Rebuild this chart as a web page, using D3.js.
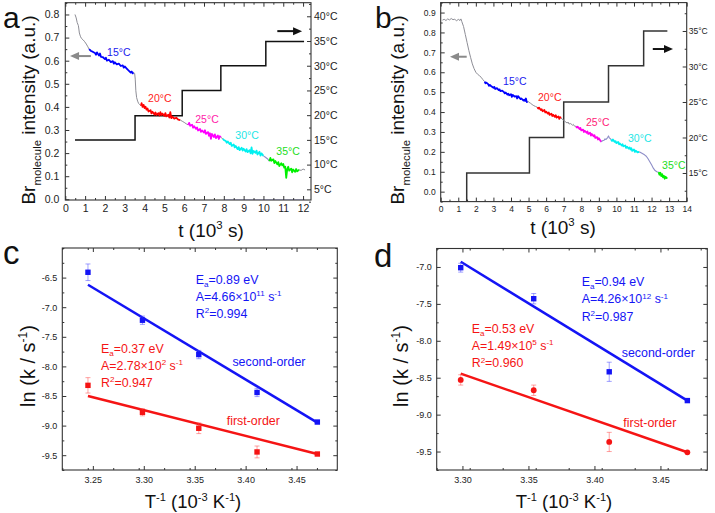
<!DOCTYPE html>
<html><head><meta charset="utf-8">
<script src="https://cdn.jsdelivr.net/npm/d3@7"></script>
<style>
body{margin:0;background:#fff;}
svg text{font-family:"Liberation Sans",Arial,Helvetica,sans-serif;}
</style></head><body>
<svg id="fig" width="715" height="513"></svg>
<script>
// ---------------- Panel a data ----------------
const aXTicks=[0,1,2,3,4,5,6,7,8,9,10,11,12];
const aYTicks=[0,0.1,0.2,0.3,0.4,0.5,0.6,0.7,0.8];
const aTempTicks=[5,10,15,20,25,30,35,40];
const aGray0=[[0.49,0.80],[0.55,0.785],[0.6,0.765],[0.66,0.752],[0.71,0.72],[0.76,0.706],[0.81,0.697],[0.9,0.69],[0.98,0.682],[1.06,0.672],[1.14,0.66],[1.2,0.65]];
const aBlue=[[1.2,0.650],[1.3,0.642],[1.4,0.638],[1.5,0.633],[1.55,0.626],[1.6,0.636],[1.7,0.622],[1.75,0.631],[1.8,0.617],[1.9,0.615],[2.0,0.607],[2.05,0.613],[2.1,0.600],[2.2,0.604],[2.3,0.594],[2.4,0.598],[2.45,0.587],[2.5,0.593],[2.6,0.584],[2.7,0.587],[2.8,0.577],[2.9,0.580],[2.95,0.570],[3.0,0.575],[3.1,0.566],[3.15,0.561],[3.2,0.557],[3.25,0.553],[3.3,0.549],[3.35,0.553],[3.4,0.545],[3.44,0.550]];
const aGray1=[[3.44,0.550],[3.5,0.545],[3.53,0.52],[3.56,0.47],[3.6,0.44],[3.65,0.425],[3.7,0.415],[3.75,0.41],[3.82,0.405]];
const aRed=[[3.82,0.405],[3.85,0.416],[3.9,0.400],[3.95,0.409],[4.0,0.395],[4.05,0.401],[4.1,0.388],[4.15,0.393],[4.2,0.380],[4.3,0.386],[4.35,0.372],[4.4,0.379],[4.5,0.367],[4.55,0.376],[4.6,0.365],[4.7,0.373],[4.75,0.363],[4.8,0.377],[4.85,0.365],[4.9,0.371],[5.0,0.361],[5.05,0.373],[5.1,0.359],[5.2,0.366],[5.25,0.354],[5.3,0.377],[5.35,0.351],[5.4,0.358],[5.5,0.349],[5.6,0.353],[5.7,0.345],[5.8,0.343]];
const aGray2=[[5.8,0.343],[5.9,0.338],[6.0,0.333],[6.1,0.327],[6.2,0.322]];
const aMag=[[6.2,0.322],[6.25,0.331],[6.3,0.318],[6.4,0.323],[6.45,0.310],[6.5,0.316],[6.6,0.305],[6.65,0.311],[6.7,0.298],[6.8,0.304],[6.85,0.292],[6.9,0.298],[7.0,0.289],[7.05,0.299],[7.1,0.283],[7.2,0.291],[7.25,0.275],[7.3,0.286],[7.35,0.262],[7.4,0.283],[7.5,0.270],[7.55,0.281],[7.6,0.265],[7.7,0.276],[7.75,0.261],[7.8,0.273],[7.85,0.268]];
const aGray3=[[7.85,0.268],[7.95,0.262]];
const aCyan=[[7.95,0.262],[8.0,0.257],[8.1,0.252],[8.15,0.245],[8.2,0.250],[8.3,0.239],[8.35,0.245],[8.4,0.231],[8.5,0.237],[8.55,0.225],[8.6,0.231],[8.7,0.217],[8.75,0.226],[8.8,0.213],[8.9,0.223],[8.95,0.211],[9.0,0.219],[9.1,0.207],[9.15,0.217],[9.2,0.204],[9.3,0.213],[9.35,0.199],[9.4,0.225],[9.45,0.197],[9.5,0.209],[9.6,0.201],[9.65,0.211],[9.7,0.194],[9.8,0.206],[9.85,0.189],[9.9,0.199],[10.0,0.188]];
const aGray4=[[10.0,0.188],[10.1,0.182],[10.2,0.176],[10.3,0.165]];
const aGreen=[[10.3,0.165],[10.35,0.179],[10.4,0.167],[10.5,0.173],[10.55,0.157],[10.6,0.166],[10.7,0.151],[10.75,0.161],[10.8,0.144],[10.9,0.156],[10.95,0.147],[11.0,0.153],[11.05,0.137],[11.1,0.141],[11.15,0.093],[11.2,0.131],[11.25,0.141],[11.3,0.124],[11.4,0.133],[11.45,0.117],[11.5,0.129],[11.6,0.119],[11.65,0.131],[11.7,0.121],[11.8,0.128]];
const aGray5=[[11.8,0.128],[11.9,0.125],[12.0,0.131],[12.1,0.127]];
const aTempT=[0.49,3.52,3.52,5.9,5.9,7.85,7.85,10.12,10.12,12.05];
const aTempC=[15.0,15.0,19.9,19.9,25.0,25.0,30.0,30.0,34.9,34.9];
const aTempLabels=["15°C","20°C","25°C","30°C","35°C"];
const aLabelPos=[[2.11,0.621],[4.18,0.4225],[6.56,0.332],[8.58,0.262],[10.65,0.193]];

// ---------------- Panel b data ----------------
const bXTicks=[0,1,2,3,4,5,6,7,8,9,10,11,12,13,14];
const bYTicks=[0,0.1,0.2,0.3,0.4,0.5,0.6,0.7,0.8,0.9];
const bTempTicks=[15,20,25,30,35];
const bGray0=[[0.1,0.862],[0.2,0.866],[0.3,0.860],[0.4,0.868],[0.5,0.863],[0.6,0.870],[0.7,0.864],[0.8,0.867],[0.9,0.858],[1.0,0.866],[1.1,0.860],[1.15,0.868],[1.2,0.855],[1.3,0.830],[1.4,0.790],[1.5,0.750],[1.6,0.710],[1.7,0.675],[1.8,0.642],[1.9,0.618],[2.0,0.600],[2.1,0.590],[2.2,0.583],[2.3,0.575],[2.4,0.563],[2.5,0.553]];
const bBlue=[[2.5,0.553],[2.55,0.545],[2.6,0.548],[2.7,0.540],[2.75,0.532],[2.8,0.536],[2.9,0.528],[3.0,0.522],[3.05,0.526],[3.1,0.516],[3.2,0.520],[3.3,0.510],[3.35,0.514],[3.4,0.505],[3.5,0.508],[3.6,0.500],[3.65,0.494],[3.7,0.498],[3.8,0.488],[3.85,0.492],[3.9,0.484],[4.0,0.490],[4.05,0.476],[4.1,0.486],[4.2,0.478],[4.3,0.480],[4.35,0.468],[4.4,0.480],[4.5,0.470],[4.55,0.465],[4.6,0.468],[4.7,0.458],[4.75,0.462],[4.8,0.456],[4.85,0.468],[4.9,0.450],[4.95,0.455]];
const bGray1=[[4.95,0.455],[5.0,0.450],[5.1,0.445],[5.2,0.438],[5.3,0.432],[5.4,0.428],[5.5,0.424]];
const bRed=[[5.5,0.424],[5.55,0.418],[5.6,0.422],[5.7,0.410],[5.75,0.414],[5.8,0.404],[5.9,0.410],[5.95,0.398],[6.0,0.402],[6.1,0.392],[6.15,0.398],[6.2,0.386],[6.3,0.392],[6.35,0.380],[6.4,0.386],[6.5,0.376],[6.55,0.384],[6.6,0.372],[6.7,0.378],[6.75,0.366],[6.8,0.374],[6.85,0.370]];
const bGray2=[[6.85,0.370],[6.9,0.365],[7.0,0.360],[7.1,0.350],[7.2,0.345],[7.25,0.350],[7.3,0.340],[7.4,0.342],[7.5,0.334],[7.55,0.338],[7.6,0.330],[7.7,0.328]];
const bMag=[[7.7,0.328],[7.75,0.322],[7.8,0.326],[7.9,0.315],[7.95,0.320],[8.0,0.308],[8.1,0.312],[8.15,0.300],[8.2,0.306],[8.3,0.296],[8.35,0.302],[8.4,0.290],[8.5,0.296],[8.55,0.282],[8.6,0.290],[8.7,0.278],[8.75,0.284],[8.8,0.270],[8.9,0.274],[8.95,0.262],[9.0,0.268],[9.1,0.255],[9.15,0.250]];
const bGray3=[[9.15,0.250],[9.2,0.256],[9.3,0.258],[9.35,0.265],[9.4,0.262],[9.5,0.272],[9.55,0.280],[9.6,0.270],[9.7,0.262]];
const bCyan=[[9.7,0.262],[9.75,0.255],[9.8,0.262],[9.9,0.250],[9.95,0.254],[10.0,0.244],[10.1,0.250],[10.15,0.238],[10.2,0.242],[10.3,0.232],[10.35,0.238],[10.4,0.228],[10.5,0.232],[10.55,0.220],[10.6,0.226],[10.7,0.216],[10.75,0.222],[10.8,0.212],[10.85,0.218],[10.9,0.205],[11.0,0.212],[11.05,0.200],[11.1,0.206],[11.2,0.198],[11.3,0.200]];
const bGray4=[[11.3,0.200],[11.4,0.195],[11.5,0.190],[11.6,0.185],[11.7,0.178],[11.8,0.165],[11.9,0.150],[12.0,0.135],[12.1,0.118],[12.2,0.106],[12.3,0.100],[12.4,0.098]];
const bGreen=[[12.4,0.098],[12.45,0.085],[12.5,0.095],[12.55,0.078],[12.6,0.088],[12.65,0.072],[12.7,0.080],[12.75,0.065],[12.8,0.075],[12.85,0.068],[12.9,0.072]];
const bTempT=[1.48,1.48,5.05,5.05,7.0,7.0,9.55,9.55,11.55,11.55,12.9];
const bTempC=[10.0,15.0,15.0,20.0,20.0,25.0,25.0,30.1,30.1,35.0,35.0];
const bTempLabels=["15°C","20°C","25°C","30°C","35°C"];
const bLabelPos=[[3.55,0.534],[5.54,0.457],[8.27,0.328],[10.66,0.251],[12.6,0.1156]];

// ---------------- Panel c data ----------------
const cXTicks=[3.25,3.30,3.35,3.40,3.45];
const cYTicks=[-6.5,-7.0,-7.5,-8.0,-8.5,-9.0,-9.5];
const cInvT=[3.2452,3.2987,3.3540,3.4112,3.4704];
const cSecond=[-6.41,-7.22,-7.80,-8.44,-8.94];
const cSecondErr=[0.14,0.07,0.07,0.07,0.02];
const cFirst=[-8.32,-8.775,-9.045,-9.445,-9.48];
const cFirstErr=[0.13,0.06,0.09,0.10,0.02];
const cSecondFit=[[3.2452,-6.62],[3.4704,-8.95]];
const cFirstFit=[[3.2452,-8.50],[3.4704,-9.48]];

// ---------------- Panel d data ----------------
const dXTicks=[3.30,3.35,3.40,3.45];
const dYTicks=[-7.0,-7.5,-8.0,-8.5,-9.0,-9.5];
const dInvT=[3.2987,3.3540,3.4112,3.4704];
const dSecond=[-7.01,-7.43,-8.42,-8.81];
const dSecondErr=[0.06,0.07,0.13,0.02];
const dFirst=[-8.53,-8.67,-9.37,-9.51];
const dFirstErr=[0.07,0.07,0.13,0.01];
const dSecondFit=[[3.2987,-6.93],[3.4704,-8.81]];
const dFirstFit=[[3.2987,-8.445],[3.4704,-9.51]];

// ---------------- drawing ----------------
const svg=d3.select("#fig");
const INK="#333";
const BLUE="#1414f5", RED="#f51414";
const GRAY="#8e8e96", PGRAY="#8e8ec8";

function addAxis(g, fn, scale, majors, minors, fmt, tr, fs, pad){
  const ax=fn(scale).tickValues(majors).tickSizeInner(-4).tickSizeOuter(0).tickPadding(pad)
    .tickFormat(fmt?fmt:()=>"");
  const ga=g.append("g").attr("transform",tr).call(ax);
  ga.select(".domain").remove();
  ga.selectAll("line").attr("stroke",INK);
  ga.selectAll("text").attr("font-size",fs).attr("fill","#222").attr("font-family",null);
  if(minors){
    const mi=fn(scale).tickValues(minors).tickSizeInner(-2).tickSizeOuter(0).tickFormat(()=>"");
    const gm=g.append("g").attr("transform",tr).call(mi);
    gm.select(".domain").remove();
    gm.selectAll("line").attr("stroke",INK);
  }
}
function frame(g,x,y){
  g.append("rect").attr("x",x.range()[0]).attr("y",y.range()[1])
    .attr("width",x.range()[1]-x.range()[0]).attr("height",y.range()[0]-y.range()[1])
    .attr("fill","none").attr("stroke",INK).attr("stroke-width",1.1);
}
function rich(g,x,y,parts,fs,color,anchor,rot){
  const t=g.append("text").attr("x",x).attr("y",y).attr("font-size",fs).attr("fill",color)
    .attr("text-anchor",anchor||"start");
  if(rot) t.attr("transform",`rotate(${rot},${x},${y})`);
  let cur=0;
  parts.forEach(p=>{
    let s=0,size=fs;
    if(p.sub){s=fs*(p.shift||0.28); size=fs*(p.scale||0.62);}
    if(p.sup){s=-fs*(p.shift||0.38); size=fs*(p.scale||0.62);}
    t.append("tspan").attr("dy",s-cur).attr("font-size",size).text(p.t);
    cur=s;
  });
  return t;
}
function minorsOf(majors,step,lo,hi){
  const out=[];
  for(let v=lo; v<=hi+1e-9; v+=step){
    if(!majors.some(m=>Math.abs(m-v)<1e-6)) out.push(+v.toFixed(4));
  }
  return out;
}
function arrow(g,x1,y1,x2,y2,color){
  const dir=Math.sign(x2-x1), hl=9, hw=4;
  g.append("line").attr("x1",x1).attr("y1",y1).attr("x2",x2-dir*hl*0.8).attr("y2",y2)
    .attr("stroke",color).attr("stroke-width",2);
  g.append("path").attr("d",`M${x2},${y2}L${x2-dir*hl},${y2-hw}L${x2-dir*hl},${y2+hw}Z`).attr("fill",color);
}

// ---------- Panel a ----------
(function(){
  const g=svg.append("g");
  const x=d3.scaleLinear().domain([0,12.4]).range([65.3,311]);
  const y=d3.scaleLinear().domain([-0.003,0.851]).range([200,2.7]);
  const yT=d3.scaleLinear().domain([2.84,42.75]).range([200,2.7]);
  svg.append("clipPath").attr("id","clipA").append("rect")
    .attr("x",65.3).attr("y",2.7).attr("width",245.7).attr("height",197.3);
  const pg=g.append("g").attr("clip-path","url(#clipA)");
  const line=d3.line().x(d=>x(d[0])).y(d=>y(d[1]));
  pg.append("path").attr("d",line([[8.0,-0.003],[12.1,-0.003]])).attr("stroke","#6a6af0").attr("stroke-width",1.2).attr("fill","none").attr("opacity",0.6);
  const tl=d3.line().x((d,i)=>x(aTempT[i])).y((d,i)=>yT(aTempC[i]));
  pg.append("path").attr("d",tl(aTempT)).attr("stroke","#111").attr("stroke-width",1.5).attr("fill","none");
  const segs=[[aGray0,GRAY,1],[aBlue,"#0000ff",1.8],[aGray1,GRAY,1],[aRed,"#ff0000",1.8],[aGray2,GRAY,1],
    [aMag,"#ff00ff",1.8],[aGray3,GRAY,1],[aCyan,"#00f0f0",1.8],[aGray4,PGRAY,1.2],[aGreen,"#00f000",1.8],[aGray5,GRAY,1]];
  segs.forEach(s=>pg.append("path").attr("d",line(s[0])).attr("stroke",s[1]).attr("stroke-width",s[2]).attr("fill","none").attr("stroke-linejoin","round"));
  frame(g,x,y);
  addAxis(g,d3.axisBottom,x,aXTicks,minorsOf(aXTicks,0.5,0,12.4),d=>d,"translate(0,200)",10.5,4.5);
  addAxis(g,d3.axisTop,x,aXTicks,minorsOf(aXTicks,0.5,0,12.4),null,"translate(0,2.7)",10.5,4);
  addAxis(g,d3.axisLeft,y,aYTicks,minorsOf(aYTicks,0.05,0,0.85),d=>d.toFixed(1),"translate(65.3,0)",10.5,6);
  addAxis(g,d3.axisRight,yT,aTempTicks,minorsOf(aTempTicks,2.5,2.5,42.5),d=>d+"°C","translate(311,0)",10.5,3);
  const lc=["#1a1aee","#ff2222","#ff22aa","#22e6e6","#22dd22"];
  aTempLabels.forEach((t,i)=>g.append("text").attr("x",x(aLabelPos[i][0])).attr("y",y(aLabelPos[i][1]))
    .attr("font-size",10.5).attr("fill",lc[i]).text(t));
  arrow(g,x(1.29),y(0.62),x(0.24),y(0.62),"#8a8a8a");
  arrow(g,x(10.7),yT(37.0),x(11.95),yT(37.0),"#111");
  g.append("text").attr("x",3).attr("y",27.5).attr("font-size",30).attr("fill","#111").text("a");
  rich(g,35,110,[{t:"Br"},{t:"molecule",sub:true,scale:0.6,shift:0.3},{t:" intensity (a.u.)"}],19,"#111","middle",-90);
  rich(g,211,237,[{t:"t (10"},{t:"3",sup:true,scale:0.6,shift:0.4},{t:" s)"}],19,"#111","middle");
})();

// ---------- Panel b ----------
(function(){
  const g=svg.append("g");
  const x=d3.scaleLinear().domain([0,14]).range([440.7,686.7]);
  const y=d3.scaleLinear().domain([-0.05,0.95]).range([201.6,2.6]);
  const yT=d3.scaleLinear().domain([10.97,39]).range([201.6,2.6]);
  svg.append("clipPath").attr("id","clipB").append("rect")
    .attr("x",440.7).attr("y",2.6).attr("width",246).attr("height",199);
  const pg=g.append("g").attr("clip-path","url(#clipB)");
  const line=d3.line().x(d=>x(d[0])).y(d=>y(d[1]));
  pg.append("path").attr("d",line([[9.0,-0.05],[13.0,-0.05]])).attr("stroke","#6a6af0").attr("stroke-width",1.2).attr("fill","none").attr("opacity",0.6);
  const tl=d3.line().x((d,i)=>x(bTempT[i])).y((d,i)=>yT(bTempC[i]));
  pg.append("path").attr("d",tl(bTempT)).attr("stroke","#333").attr("stroke-width",1.5).attr("fill","none");
  const segs=[[bGray0,GRAY,1],[bBlue,"#0000ff",1.8],[bGray1,GRAY,1],[bRed,"#ff0000",1.8],[bGray2,GRAY,1],
    [bMag,"#ff00ee",1.8],[bGray3,PGRAY,1.1],[bCyan,"#00f0f0",1.8],[bGray4,PGRAY,1.1],[bGreen,"#00f000",1.8]];
  segs.forEach(s=>pg.append("path").attr("d",line(s[0])).attr("stroke",s[1]).attr("stroke-width",s[2]).attr("fill","none").attr("stroke-linejoin","round"));
  frame(g,x,y);
  addAxis(g,d3.axisBottom,x,bXTicks,minorsOf(bXTicks,0.5,0,14),d=>d,"translate(0,201.6)",8.5,4.5);
  addAxis(g,d3.axisTop,x,bXTicks,minorsOf(bXTicks,0.5,0,14),null,"translate(0,2.6)",8.5,4);
  addAxis(g,d3.axisLeft,y,bYTicks,minorsOf(bYTicks,0.05,-0.05,0.95),d=>d.toFixed(1),"translate(440.7,0)",8.5,5);
  addAxis(g,d3.axisRight,yT,bTempTicks,minorsOf(bTempTicks,2.5,12.5,37.5),d=>d+"°C","translate(686.7,0)",8.5,2);
  const lc=["#1a1aee","#ff2222","#ff2277","#22e6e6","#22dd22"];
  bTempLabels.forEach((t,i)=>g.append("text").attr("x",x(bLabelPos[i][0])).attr("y",y(bLabelPos[i][1]))
    .attr("font-size",10.5).attr("fill",lc[i]).text(t));
  arrow(g,x(1.48),y(0.678),x(0.53),y(0.678),"#8a8a8a");
  arrow(g,x(12.07),yT(32.46),x(13.22),yT(32.46),"#111");
  g.append("text").attr("x",375).attr("y",27.5).attr("font-size",30).attr("fill","#111").text("b");
  rich(g,404,110,[{t:"Br"},{t:"molecule",sub:true,scale:0.6,shift:0.3},{t:" intensity (a.u.)"}],19,"#111","middle",-90);
  rich(g,563,234,[{t:"t (10"},{t:"3",sup:true,scale:0.6,shift:0.4},{t:" s)"}],19,"#111","middle");
})();

// ---------- Panels c & d ----------
function kinetics(cfg){
  const g=svg.append("g");
  const x=d3.scaleLinear().domain(cfg.xd).range(cfg.xr);
  const y=d3.scaleLinear().domain(cfg.yd).range(cfg.yr);
  const line=d3.line().x(d=>x(d[0])).y(d=>y(d[1]));
  frame(g,x,y);
  addAxis(g,d3.axisBottom,x,cfg.xt,minorsOf(cfg.xt,0.025,cfg.xd[0],cfg.xd[1]),d=>d.toFixed(2),`translate(0,${cfg.yr[0]})`,9,6.3);
  addAxis(g,d3.axisTop,x,cfg.xt,minorsOf(cfg.xt,0.025,cfg.xd[0],cfg.xd[1]),null,`translate(0,${cfg.yr[1]})`,9,4);
  addAxis(g,d3.axisLeft,y,cfg.yt,minorsOf(cfg.yt,0.25,cfg.yd[0],cfg.yd[1]),d=>d.toFixed(1),`translate(${cfg.xr[0]},0)`,9,5);
  addAxis(g,d3.axisRight,y,cfg.yt,minorsOf(cfg.yt,0.25,cfg.yd[0],cfg.yd[1]),null,`translate(${cfg.xr[1]},0)`,9,4);
  g.append("path").attr("d",line(cfg.fit2)).attr("stroke",BLUE).attr("stroke-width",2.5).attr("fill","none");
  g.append("path").attr("d",line(cfg.fit1)).attr("stroke",RED).attr("stroke-width",2.5).attr("fill","none");
  function series(xs,ys,es,col,ecol,shape){
    xs.forEach((xv,i)=>{
      const cx=x(xv), cy=y(ys[i]), e1=y(ys[i]+es[i]), e2=y(ys[i]-es[i]);
      g.append("line").attr("x1",cx).attr("x2",cx).attr("y1",e1).attr("y2",e2).attr("stroke",ecol).attr("stroke-width",1);
      [e1,e2].forEach(v=>g.append("line").attr("x1",cx-2.5).attr("x2",cx+2.5).attr("y1",v).attr("y2",v).attr("stroke",ecol).attr("stroke-width",1));
      if(shape==="circle") g.append("circle").attr("cx",cx).attr("cy",cy).attr("r",2.9).attr("fill",col);
      else g.append("rect").attr("x",cx-2.7).attr("y",cy-2.7).attr("width",5.4).attr("height",5.4).attr("fill",col);
    });
  }
  series(cfg.xs,cfg.s2,cfg.e2,BLUE,"rgba(70,70,255,0.5)","square");
  series(cfg.xs,cfg.s1,cfg.e1,RED,"rgba(255,70,70,0.5)",cfg.firstShape);
  const A2=cfg.ann2, A1=cfg.ann1, lh=cfg.lh, fs=12.4;
  rich(g,x(A2.p[0]),y(A2.p[1]),[{t:"E"},{t:"a",sub:true,scale:0.65,shift:0.25},{t:A2.ea}],fs,BLUE);
  rich(g,x(A2.p[0]),y(A2.p[1])+lh,[{t:"A="+A2.a},{t:A2.ae,sup:true,scale:0.65},{t:" s"},{t:"-1",sup:true,scale:0.65}],fs,BLUE);
  rich(g,x(A2.p[0]),y(A2.p[1])+2*lh,[{t:"R"},{t:"2",sup:true,scale:0.65},{t:A2.r}],fs,BLUE);
  rich(g,x(A1.p[0]),y(A1.p[1]),[{t:"E"},{t:"a",sub:true,scale:0.65,shift:0.25},{t:A1.ea}],fs,RED);
  rich(g,x(A1.p[0]),y(A1.p[1])+lh,[{t:"A="+A1.a},{t:A1.ae,sup:true,scale:0.65},{t:" s"},{t:"-1",sup:true,scale:0.65}],fs,RED);
  rich(g,x(A1.p[0]),y(A1.p[1])+2*lh,[{t:"R"},{t:"2",sup:true,scale:0.65},{t:A1.r}],fs,RED);
  g.append("text").attr("x",x(cfg.so[0])).attr("y",y(cfg.so[1])).attr("font-size",12.4).attr("fill",BLUE).text("second-order");
  g.append("text").attr("x",x(cfg.fo[0])).attr("y",y(cfg.fo[1])).attr("font-size",12.4).attr("fill",RED).text("first-order");
  g.append("text").attr("x",cfg.letter[0]).attr("y",cfg.letter[1]).attr("font-size",33).attr("fill","#111").text(cfg.name);
  rich(g,cfg.ylab[0],cfg.ylab[1],[{t:"ln (k / s"},{t:"-1",sup:true,scale:0.6,shift:0.4},{t:")"}],20,"#111","middle",-90);
  rich(g,cfg.xlab[0],cfg.xlab[1],[{t:"T"},{t:"-1",sup:true,scale:0.6,shift:0.4},{t:" (10"},{t:"-3",sup:true,scale:0.6,shift:0.4},{t:" K"},{t:"-1",sup:true,scale:0.6,shift:0.4},{t:")"}],18.5,"#111","middle");
}
kinetics({name:"c",xd:[3.22,3.49],xr:[62.3,337.3],yd:[-9.75,-6.0],yr:[470,248],
  xt:cXTicks,yt:cYTicks,xs:cInvT,s2:cSecond,e2:cSecondErr,s1:cFirst,e1:cFirstErr,
  fit2:cSecondFit,fit1:cFirstFit,firstShape:"square",lh:17,
  ann2:{p:[3.351,-6.61],ea:"=0.89 eV",a:"4.66×10",ae:"11",r:"=0.994"},
  ann1:{p:[3.258,-7.767],ea:"=0.37 eV",a:"2.78×10",ae:"2",r:"=0.947"},
  so:[3.387,-7.99],fo:[3.3815,-8.99],letter:[3,264],ylab:[35,366],xlab:[193,508]});
kinetics({name:"d",xd:[3.2805,3.4855],xr:[436.7,707.3],yd:[-9.75,-6.75],yr:[470,248.5],
  xt:dXTicks,yt:dYTicks,xs:dInvT,s2:dSecond,e2:dSecondErr,s1:dFirst,e1:dFirstErr,
  fit2:dSecondFit,fit1:dFirstFit,firstShape:"circle",lh:17.3,
  ann2:{p:[3.3903,-7.258],ea:"=0.94 eV",a:"4.26×10",ae:"12",r:"=0.987"},
  ann1:{p:[3.307,-7.891],ea:"=0.53 eV",a:"1.49×10",ae:"5",r:"=0.960"},
  so:[3.4207,-8.216],fo:[3.4219,-9.165],letter:[374,267],ylab:[408,366],xlab:[564,508]});
</script>
</body></html>
